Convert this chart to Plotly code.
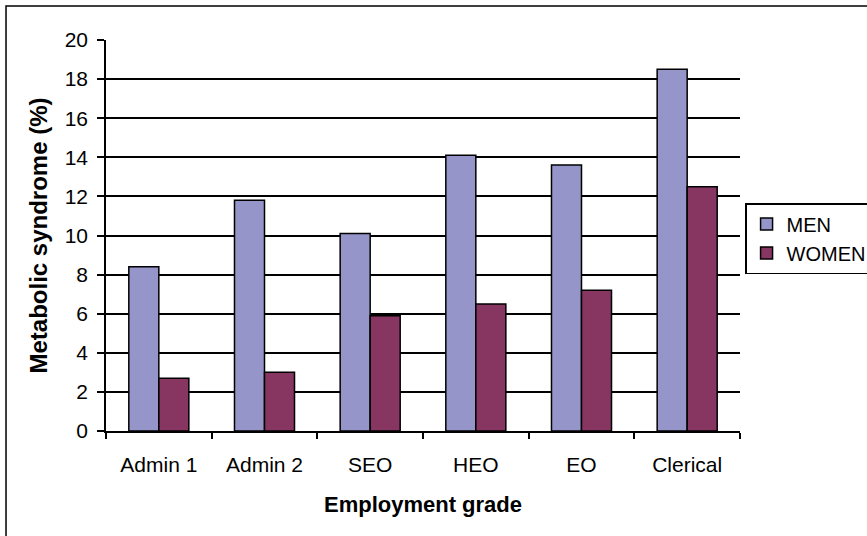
import plotly.graph_objects as go

categories = ["Admin 1", "Admin 2", "SEO", "HEO", "EO", "Clerical"]
men = [8.4, 11.8, 10.1, 14.1, 13.6, 18.5]
women = [2.7, 3.0, 5.9, 6.5, 7.2, 12.5]
y_ticks = [0, 2, 4, 6, 8, 10, 12, 14, 16, 18, 20]
grid_ticks = [2, 4, 6, 8, 10, 12, 14, 16, 18]

FONT = "Liberation Sans, Arial, sans-serif"

fig = go.Figure()
fig.add_trace(go.Bar(x=categories, y=men, name="MEN",
                     marker=dict(color="#9595C9", line=dict(color="black", width=1.5))))
fig.add_trace(go.Bar(x=categories, y=women, name="WOMEN",
                     marker=dict(color="#873662", line=dict(color="black", width=1.5))))
# helper trace so the grid-only overlay axis is drawn
fig.add_trace(go.Scatter(x=categories, y=[None] * len(categories), yaxis="y2",
                         showlegend=False, hoverinfo="skip", mode="lines"))

fig.update_layout(
    width=867, height=536,
    margin=dict(l=106, r=127, t=40, b=105, autoexpand=False),
    paper_bgcolor="white", plot_bgcolor="white",
    font=dict(family=FONT, color="black", size=21),
    barmode="group", bargap=0.432, bargroupgap=0,
    xaxis=dict(
        type="category", tickson="boundaries", ticks="outside", ticklen=6,
        tickwidth=1.5, tickcolor="black", showline=True, linecolor="black",
        linewidth=1.5, showgrid=False, ticklabelstandoff=14,
        tickfont=dict(size=21),
        title=dict(text="<b>Employment grade</b>", font=dict(size=22), standoff=22),
    ),
    yaxis=dict(
        range=[0, 20], tickvals=y_ticks, ticks="outside", ticklen=7,
        tickwidth=1.5, tickcolor="black", showline=True, linecolor="black",
        linewidth=1.5, showgrid=False, zeroline=False, ticklabelstandoff=5,
        tickfont=dict(size=21),
        title=dict(text="<b>Metabolic syndrome (%)</b>", font=dict(size=24), standoff=10),
    ),
    yaxis2=dict(
        range=[0, 20], overlaying="y", tickvals=grid_ticks, showticklabels=False,
        showgrid=True, gridcolor="black", gridwidth=1.5, ticks="", showline=False,
        zeroline=False,
    ),
    legend=dict(
        x=1.008, y=0.583, xanchor="left", yanchor="top",
        bordercolor="black", borderwidth=1.5, bgcolor="white",
        font=dict(size=20), tracegroupgap=0,
    ),
    shapes=[dict(type="rect", xref="paper", yref="paper",
                 x0=-0.1577, x1=1.6, y0=-0.5, y1=1.087,
                 line=dict(color="black", width=1.5), fillcolor="rgba(0,0,0,0)",
                 layer="below")],
)

fig.write_html("out.html", config={"displayModeBar": False},
               post_script="document.body.style.margin='0';document.body.style.overflow='hidden';")
